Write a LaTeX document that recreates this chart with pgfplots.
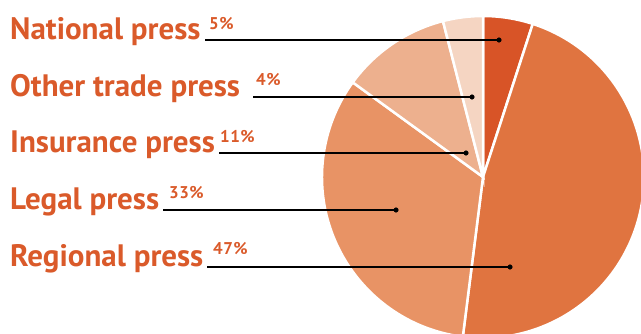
\documentclass[border=0pt]{standalone}
\usepackage{pgfplots}
\pgfplotsset{compat=1.18}
\usepackage{pgfplotstable}
\usepackage{fontspec}
\setmainfont{PT Sans}
\newfontfamily\pctfont{PT Sans}[LetterSpace=3]
\definecolor{cNat}{HTML}{D85427}
\definecolor{cReg}{HTML}{E07440}
\definecolor{cLeg}{HTML}{E89365}
\definecolor{cIns}{HTML}{EDB08E}
\definecolor{cOth}{HTML}{F5D5C2}
\definecolor{cText}{HTML}{DA5A2A}
% slices clockwise from 12 o'clock
\pgfplotstableread[col sep=comma]{
label,pct
National press,5
Regional press,47
Legal press,33
Insurance press,11
Other trade press,4
}\piedata
% label rows: baseline y, line start x, dot x
\pgfplotstableread[col sep=comma]{
y,xs,xd
40,205,499
97,253,472
153,219,466
210,163,396
267,207,510
}\leaders
\begin{document}
\begin{tikzpicture}
\pgfmathsetmacro\aA{90}
\pgfplotstablegetelem{0}{pct}\of\piedata \pgfmathsetmacro\aB{\aA-3.6*\pgfplotsretval}
\pgfplotstablegetelem{1}{pct}\of\piedata \pgfmathsetmacro\aC{\aB-3.6*\pgfplotsretval}
\pgfplotstablegetelem{2}{pct}\of\piedata \pgfmathsetmacro\aD{\aC-3.6*\pgfplotsretval}
\pgfplotstablegetelem{3}{pct}\of\piedata \pgfmathsetmacro\aE{\aD-3.6*\pgfplotsretval}
\pgfplotstablegetelem{4}{pct}\of\piedata \pgfmathsetmacro\aF{\aE-3.6*\pgfplotsretval}
\begin{axis}[name=ax, width=641pt, height=334pt, scale only axis,
  xmin=0, xmax=641, ymin=0, ymax=334, y dir=reverse,
  hide axis, clip=true]
\addplot[draw=none] coordinates {(0,0) (641,334)};
\fill[cNat, draw=white, line width=2.5pt] (axis cs:483,177) -- ++(\aA:161pt) arc[start angle=\aA, end angle=\aB, radius=161pt] -- cycle;
\fill[cReg, draw=white, line width=2.5pt] (axis cs:483,177) -- ++(\aB:161pt) arc[start angle=\aB, end angle=\aC, radius=161pt] -- cycle;
\fill[cLeg, draw=white, line width=2.5pt] (axis cs:483,177) -- ++(\aC:161pt) arc[start angle=\aC, end angle=\aD, radius=161pt] -- cycle;
\fill[cIns, draw=white, line width=2.5pt] (axis cs:483,177) -- ++(\aD:161pt) arc[start angle=\aD, end angle=\aE, radius=161pt] -- cycle;
\fill[cOth, draw=white, line width=2.5pt] (axis cs:483,177) -- ++(\aE:161pt) arc[start angle=\aE, end angle=\aF, radius=161pt] -- cycle;
% leader lines
\addplot[black, line width=1.6pt] coordinates {(205,40) (499,40)};
\addplot[black, line width=1.6pt] coordinates {(253,97) (472,97)};
\addplot[black, line width=1.6pt] coordinates {(219,153) (466,153)};
\addplot[black, line width=1.6pt] coordinates {(163,210) (396,210)};
\addplot[black, line width=1.6pt] coordinates {(207,267) (510,267)};
\addplot[only marks, mark=*, mark size=2.3pt, black] table[x=xd, y=y] {\leaders};
% labels
\begin{scope}[every node/.style={text=cText, inner sep=0pt}]
\node[anchor=base west, font=\bfseries\fontsize{31}{31}\selectfont] at (axis cs:10,40) {National press};
\node[anchor=base west, font=\bfseries\fontsize{31}{31}\selectfont] at (axis cs:10,97) {Other trade press};
\node[anchor=base west, font=\bfseries\fontsize{31}{31}\selectfont] at (axis cs:10,153) {Insurance press};
\node[anchor=base west, font=\bfseries\fontsize{31}{31}\selectfont] at (axis cs:10,210) {Legal press};
\node[anchor=base west, font=\bfseries\fontsize{31}{31}\selectfont] at (axis cs:10,267) {Regional press};
\node[anchor=base west, font=\pctfont\bfseries\fontsize{17}{17}\selectfont] at (axis cs:209,30) {5\%};
\node[anchor=base west, font=\pctfont\bfseries\fontsize{17}{17}\selectfont] at (axis cs:256,86) {4\%};
\node[anchor=base west, font=\pctfont\bfseries\fontsize{17}{17}\selectfont] at (axis cs:220,143) {11\%};
\node[anchor=base west, font=\pctfont\bfseries\fontsize{17}{17}\selectfont] at (axis cs:169,199) {33\%};
\node[anchor=base west, font=\pctfont\bfseries\fontsize{17}{17}\selectfont] at (axis cs:213,255) {47\%};
\end{scope}
\end{axis}
\pgfresetboundingbox
\useasboundingbox (ax.south west) rectangle (ax.north east);
\end{tikzpicture}
\end{document}
